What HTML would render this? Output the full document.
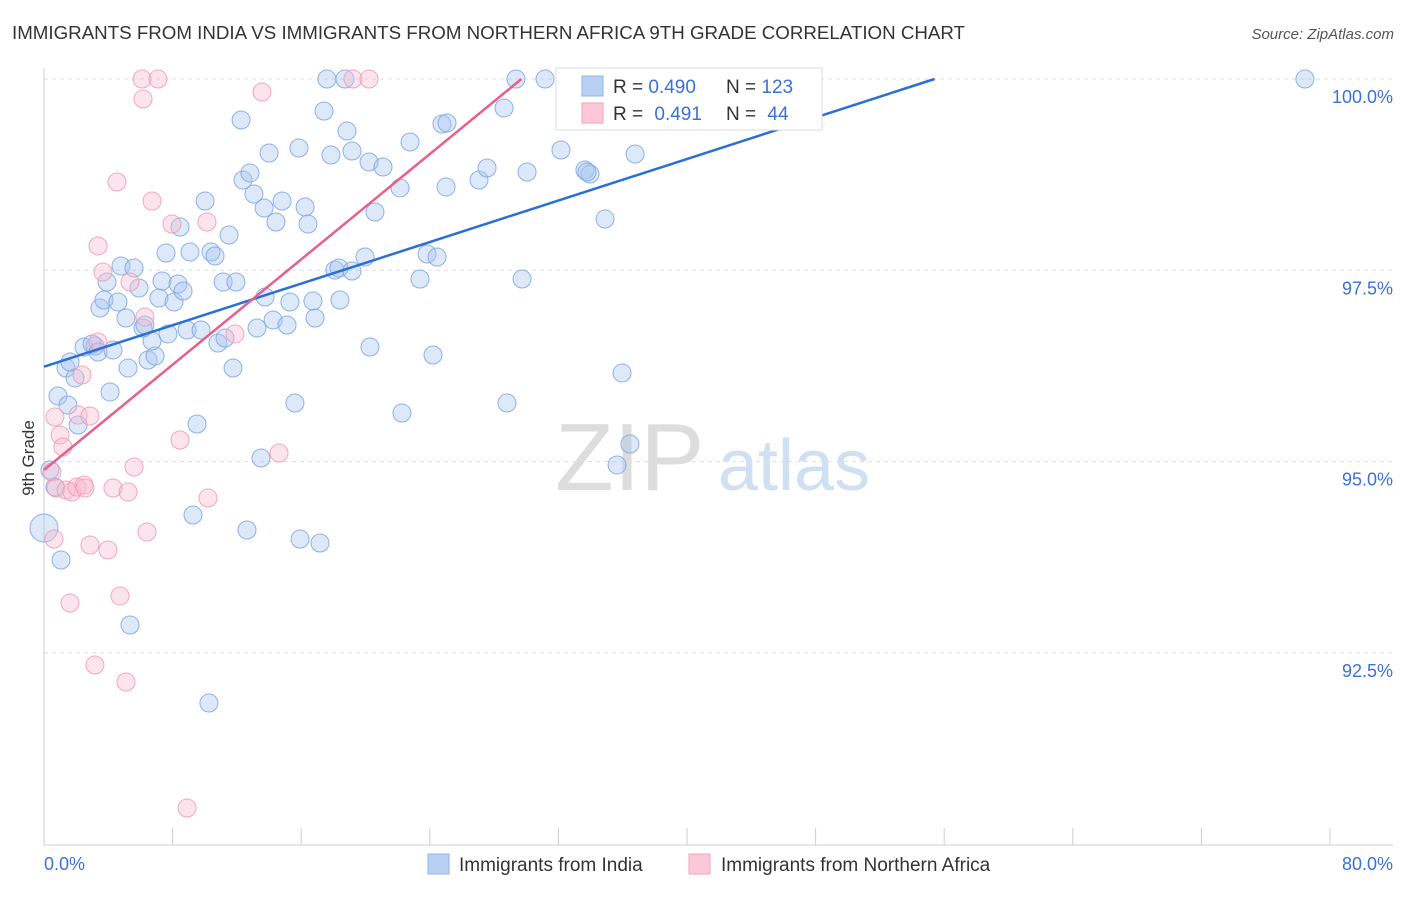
<!DOCTYPE html>
<html><head><meta charset="utf-8"><style>
body{margin:0;background:#fff;font-family:"Liberation Sans",sans-serif}
svg text{font-family:"Liberation Sans",sans-serif}
</style></head><body>
<svg id="c" width="1406" height="892" xmlns="http://www.w3.org/2000/svg">
<text x="12" y="39" font-size="18" fill="#333" textLength="953" lengthAdjust="spacingAndGlyphs">IMMIGRANTS FROM INDIA VS IMMIGRANTS FROM NORTHERN AFRICA 9TH GRADE CORRELATION CHART</text>
<text x="1394" y="39" font-size="15" fill="#555" text-anchor="end" font-style="italic">Source: ZipAtlas.com</text>
<text x="34" y="458" font-size="17" fill="#333" text-anchor="middle" transform="rotate(-90 34 458)">9th Grade</text>
<text x="555" y="490" font-size="96" fill="#ddd" font-family="Liberation Serif">ZIP</text>
<text x="718" y="490" font-size="72" fill="#cfe0f3">atlas</text>
<g id="grid"></g><g id="pts"></g><g id="lines"></g>
<g>
<rect x="556" y="68" width="266" height="62" fill="#fff" stroke="#ddd"/>
<rect x="582" y="76" width="21" height="20" fill="#b7d0f3" stroke="#8fb3e6"/>
<rect x="582" y="103" width="21" height="20" fill="#fcc8d8" stroke="#f3a3bb"/>
<text x="613" y="93" font-size="19" fill="#333">R = <tspan fill="#3a72d4">0.490</tspan></text>
<text x="726" y="93" font-size="19" fill="#333">N = <tspan fill="#3a72d4">123</tspan></text>
<text x="613" y="120" font-size="19" fill="#333">R = <tspan fill="#3a72d4" dx="6">0.491</tspan></text>
<text x="726" y="120" font-size="19" fill="#333">N = <tspan fill="#3a72d4" dx="6">44</tspan></text>
</g>
<g>
<rect x="428" y="854" width="21" height="20" fill="#b7d0f3" stroke="#8fb3e6"/>
<text x="459" y="871" font-size="19" fill="#333">Immigrants from India</text>
<rect x="689" y="854" width="21" height="20" fill="#fcc8d8" stroke="#f3a3bb"/>
<text x="721" y="871" font-size="19" fill="#333">Immigrants from Northern Africa</text>
</g>
</svg>
<script>
const yTicks=[100,97.5,95,92.5];
const yTickLabels=["100.0%","97.5%","95.0%","92.5%"];
const xTicks=[0,8,16,24,32,40,48,56,64,72,80];
const bluePx=[[44,528],[61,560],[55,487],[50,470],[58,396],[68,405],[78,425],[66,368],[75,378],[70,362],[84,347],[95,346],[92,344],[98,352],[113,350],[110,392],[100,308],[104,300],[118,302],[107,282],[121,266],[134,268],[139,288],[126,318],[128,368],[148,360],[155,356],[152,341],[143,328],[145,325],[168,334],[159,298],[162,281],[174,302],[178,284],[183,291],[166,253],[180,227],[190,252],[205,201],[211,252],[215,256],[229,235],[223,282],[236,282],[187,330],[201,330],[218,343],[225,338],[233,368],[257,328],[265,297],[273,320],[287,325],[290,302],[313,301],[315,318],[340,300],[264,208],[276,222],[282,201],[305,207],[308,224],[254,194],[243,180],[250,173],[269,153],[241,120],[299,148],[331,155],[352,151],[369,162],[383,167],[347,131],[324,111],[327,79],[345,79],[375,212],[400,188],[410,142],[442,124],[447,123],[446,187],[479,180],[487,168],[504,108],[516,79],[545,79],[527,172],[561,150],[585,170],[590,174],[605,219],[635,154],[587,172],[335,270],[339,268],[352,271],[365,257],[427,254],[437,257],[420,279],[522,279],[370,347],[433,355],[402,413],[507,403],[622,373],[630,444],[617,465],[295,403],[197,424],[261,458],[193,515],[247,530],[300,539],[320,543],[130,625],[209,703],[1305,79],[680,79],[700,79]];
const pinkPx=[[55,417],[60,435],[63,447],[52,472],[56,488],[66,490],[72,492],[77,487],[84,485],[85,488],[54,539],[90,545],[108,550],[70,603],[95,665],[126,682],[120,596],[82,375],[78,415],[90,416],[98,246],[103,272],[117,182],[130,282],[145,317],[143,99],[142,79],[158,79],[152,201],[172,224],[207,222],[180,440],[208,498],[113,488],[128,492],[134,467],[147,532],[235,334],[279,453],[262,92],[353,79],[369,79],[187,808],[98,342]];
const blueX=bluePx.map(p=>+((p[0]-44)/1286*80).toFixed(2));
const blueY=bluePx.map(p=>+(100-(p[1]-79)/191.3*2.5).toFixed(3));
const pinkX=pinkPx.map(p=>+((p[0]-44)/1286*80).toFixed(2));
const pinkY=pinkPx.map(p=>+(100-(p[1]-79)/191.3*2.5).toFixed(3));
const blueFit=[[0,96.24],[55.4,100]];
const pinkFit=[[0,94.89],[29.7,100]];
const X=v=>44+v/80*1286, Y=v=>79+(100-v)/2.5*191.3;
const NS="http://www.w3.org/2000/svg";
function mk(t,a,p){const e=document.createElementNS(NS,t);for(const k in a)e.setAttribute(k,a[k]);p.appendChild(e);return e;}
const g=document.getElementById('grid');
yTicks.forEach((v,i)=>{
 const l=mk('line',{x1:44,x2:1393,y1:Y(v),y2:Y(v),stroke:'#ddd','stroke-dasharray':'4 4'},g);
 
 
 const t=mk('text',{x:1393,y:Y(v)+24,'font-size':18,fill:'#3a72d4','text-anchor':'end'},g);t.textContent=yTickLabels[i];
 
 
});
mk('line',{x1:44,x2:44,y1:68,y2:845,stroke:'#ccc'},g);
mk('line',{x1:44,x2:1393,y1:845,y2:845,stroke:'#ccc'},g);
xTicks.forEach(v=>{const l=mk('line',{x1:X(v),x2:X(v),y1:828,y2:845,stroke:'#ccc'},g);
 
 });
let t=mk('text',{x:44,y:870,'font-size':18,fill:'#3a72d4'},g);t.textContent='0.0%';


t=mk('text',{x:1393,y:870,'font-size':18,fill:'#3a72d4','text-anchor':'end'},g);t.textContent='80.0%';


const pg=document.getElementById('pts');
function dots(xs,ys,fill,stroke,name){xs.forEach((x,i)=>{
 const big=(x<0.3&&name==='india-point')?14:9;
 const c=mk('circle',{cx:X(x),cy:Y(ys[i]),r:big,fill:fill,'fill-opacity':0.4,stroke:stroke,'stroke-width':1,'stroke-opacity':0.85},pg);
 
 });}
dots(blueX,blueY,'#a9c6ef','#7aa6e2','india-point');
dots(pinkX,pinkY,'#f8bcd0','#ef9ab5','n-africa-point');
const lg=document.getElementById('lines');
let ln=mk('line',{x1:X(blueFit[0][0]),y1:Y(blueFit[0][1]),x2:X(blueFit[1][0]),y2:Y(blueFit[1][1]),stroke:'#2a6fd6','stroke-width':2.5},lg);


ln=mk('line',{x1:X(pinkFit[0][0]),y1:Y(pinkFit[0][1]),x2:X(pinkFit[1][0]),y2:Y(pinkFit[1][1]),stroke:'#e8608a','stroke-width':2.5},lg);


</script>
</body></html>
